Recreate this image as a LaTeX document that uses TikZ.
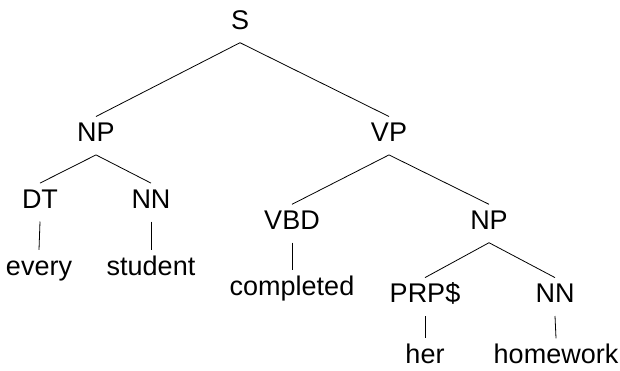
\documentclass[tikz,border=0pt]{standalone}
\usepackage{fontspec}
\setmainfont{Liberation Sans}
\begin{document}
\begin{tikzpicture}[x=1pt,y=-1pt,
  lbl/.style={anchor=base,inner xsep=0pt,inner ysep=6pt,text height=19pt,text depth=7pt,font=\fontsize{27}{30}\selectfont},
  leaf/.style={lbl,inner ysep=0pt,text height=25pt,text depth=0pt},
  edge/.style={draw=black,line width=0.8pt}]
\useasboundingbox (0,0) rectangle (620,370);
\node[lbl] (S) at (240,29.5) {S};
\node[lbl] (NP1) at (96,141.7) {NP};
\node[lbl] (VP) at (389,141.7) {VP};
\node[lbl] (DT) at (40,208.3) {DT};
\node[lbl] (NN1) at (151,208.3) {NN};
\node[leaf] (every) at (39,275) {every};
\node[leaf] (student) at (151,275) {student};
\node[lbl] (VBD) at (292,229.5) {VBD};
\node[lbl] (NP2) at (489,229.5) {NP};
\node[leaf] (completed) at (292,295) {completed};
\node[lbl] (PRP) at (425,302.8) {PRP\$};
\node[lbl] (NN2) at (555,302.8) {NN};
\node[leaf] (her) at (425,363.5) {her};
\node[leaf] (homework) at (556,363.5) {homework};
\draw[edge] (S.south) -- (NP1.north);
\draw[edge] (S.south) -- (VP.north);
\draw[edge] (NP1.south) -- (DT.north);
\draw[edge] (NP1.south) -- (NN1.north);
\draw[edge] (DT.south) -- (every.north);
\draw[edge] (NN1.south) -- (student.north);
\draw[edge] (VP.south) -- (VBD.north);
\draw[edge] (VP.south) -- (NP2.north);
\draw[edge] (VBD.south) -- (completed.north);
\draw[edge] (NP2.south) -- (PRP.north);
\draw[edge] (NP2.south) -- (NN2.north);
\draw[edge] (PRP.south) -- (her.north);
\draw[edge] (NN2.south) -- (homework.north);
\end{tikzpicture}
\end{document}
